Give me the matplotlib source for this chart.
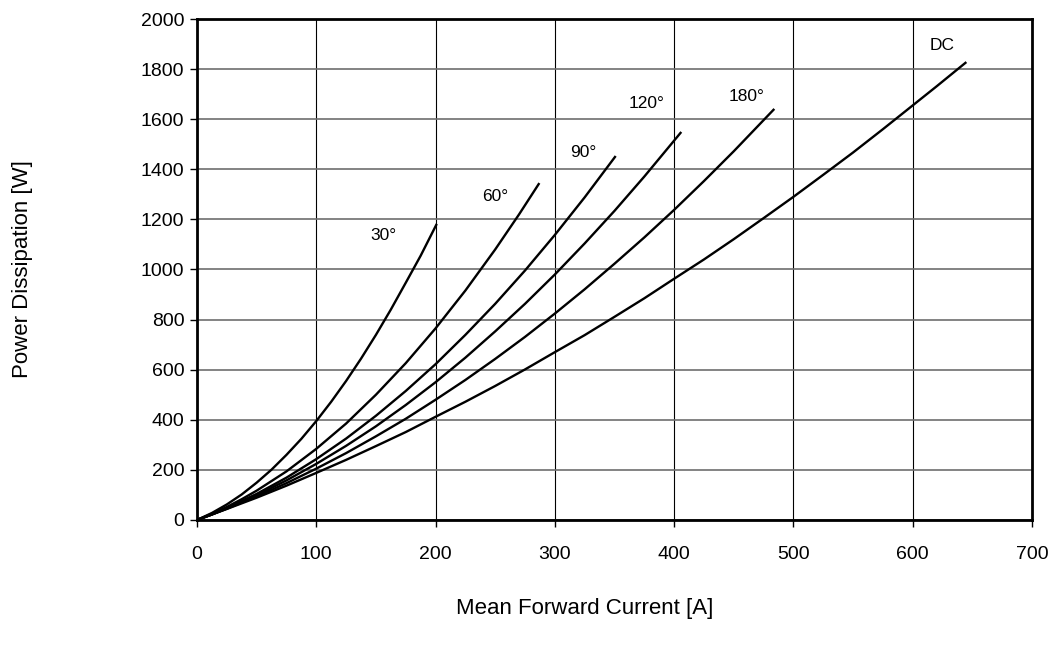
import numpy as np
import matplotlib.pyplot as plt

plt.rcParams['font.family'] = ['Liberation Sans', 'DejaVu Sans']

# curves: mean forward current [A] -> power dissipation [W]
i_30 = [0, 12.5, 25, 37.5, 50, 62.5, 75, 87.5, 100, 112.5, 125, 137.5,
        150, 162.5, 175, 187.5, 201]
p_30 = [0, 28, 62, 102, 149, 201, 260, 324, 395, 472, 555, 644,
        739, 840, 947, 1055, 1182]

i_60 = [0, 12.5, 25, 37.5, 50, 75, 100, 125, 150, 175, 200, 225, 250,
        270, 287]
p_60 = [0, 25, 52, 83, 117, 194, 284, 385, 500, 626, 765, 916, 1080,
        1220, 1345]

i_90 = [0, 12.5, 25, 50, 75, 100, 125, 150, 175, 200, 225, 250, 275,
        300, 325, 351]
p_90 = [0, 22, 48, 104, 169, 243, 325, 416, 515, 622, 739, 863, 996,
        1138, 1288, 1453]

i_120 = [0, 12.5, 25, 50, 75, 100, 125, 150, 175, 200, 225, 250, 275,
         300, 325, 350, 375, 406]
p_120 = [0, 22, 46, 99, 158, 224, 296, 374, 459, 550, 648, 753, 863,
         980, 1104, 1234, 1371, 1549]

i_180 = [0, 25, 50, 75, 100, 125, 150, 175, 200, 225, 250, 275, 300,
         325, 350, 375, 400, 425, 450, 484]
p_180 = [0, 45, 94, 147, 205, 267, 334, 404, 480, 559, 643, 731, 824,
         921, 1023, 1128, 1238, 1353, 1472, 1641]

i_dc = [0, 25, 50, 75, 100, 125, 150, 175, 200, 225, 250, 275, 300, 325,
        350, 375, 400, 425, 450, 475, 500, 525, 550, 575, 600, 620, 645]
p_dc = [0, 44, 89, 137, 188, 240, 295, 351, 412, 472, 535, 601, 670, 738,
        811, 885, 963, 1040, 1121, 1205, 1290, 1378, 1467, 1560, 1655,
        1731, 1828]

curve_labels = ['30°', '60°', '90°', '120°', '180°', 'DC']
label_x = [156, 250, 324, 377, 461, 625]
label_y = [1134, 1293, 1467, 1661, 1689, 1894]

x_ticks = [0, 100, 200, 300, 400, 500, 600, 700]
y_ticks = [0, 200, 400, 600, 800, 1000, 1200, 1400, 1600, 1800, 2000]


def main():
    fig = plt.figure(figsize=(10.58, 6.53), dpi=100)
    ax = fig.add_axes([0.1862, 0.2037, 0.7892, 0.7672])

    curves = [(i_30, p_30), (i_60, p_60), (i_90, p_90),
              (i_120, p_120), (i_180, p_180), (i_dc, p_dc)]
    for xs, ys in curves:
        ax.plot(xs, ys, color='black', lw=1.7, solid_capstyle='butt')

    for txt, lx, ly in zip(curve_labels, label_x, label_y):
        ax.text(lx, ly, txt, fontsize=12.5, ha='center', va='center')

    ax.set_xlim(0, 700)
    ax.set_ylim(0, 2000)
    ax.set_xticks(x_ticks)
    ax.set_yticks(y_ticks)
    ax.tick_params(labelsize=14, length=5, width=1, direction='out')
    ax.tick_params(axis='x', pad=14)
    ax.tick_params(axis='y', pad=4)

    # horizontal grid is grey and a bit heavier, vertical grid is thin black
    ax.grid(axis='y', color='#6e6e6e', lw=1.2)
    ax.grid(axis='x', color='black', lw=0.8)
    ax.set_axisbelow(True)

    for s in ax.spines.values():
        s.set_linewidth(2)

    fig.text(0.0208, 0.5873, 'Power Dissipation [W]', rotation=90,
             ha='center', va='center', fontsize=16)
    fig.text(0.553, 0.0689, 'Mean Forward Current [A]',
             ha='center', va='center', fontsize=16)

    fig.savefig('out.png', dpi=100)


if __name__ == "__main__":
    main()
